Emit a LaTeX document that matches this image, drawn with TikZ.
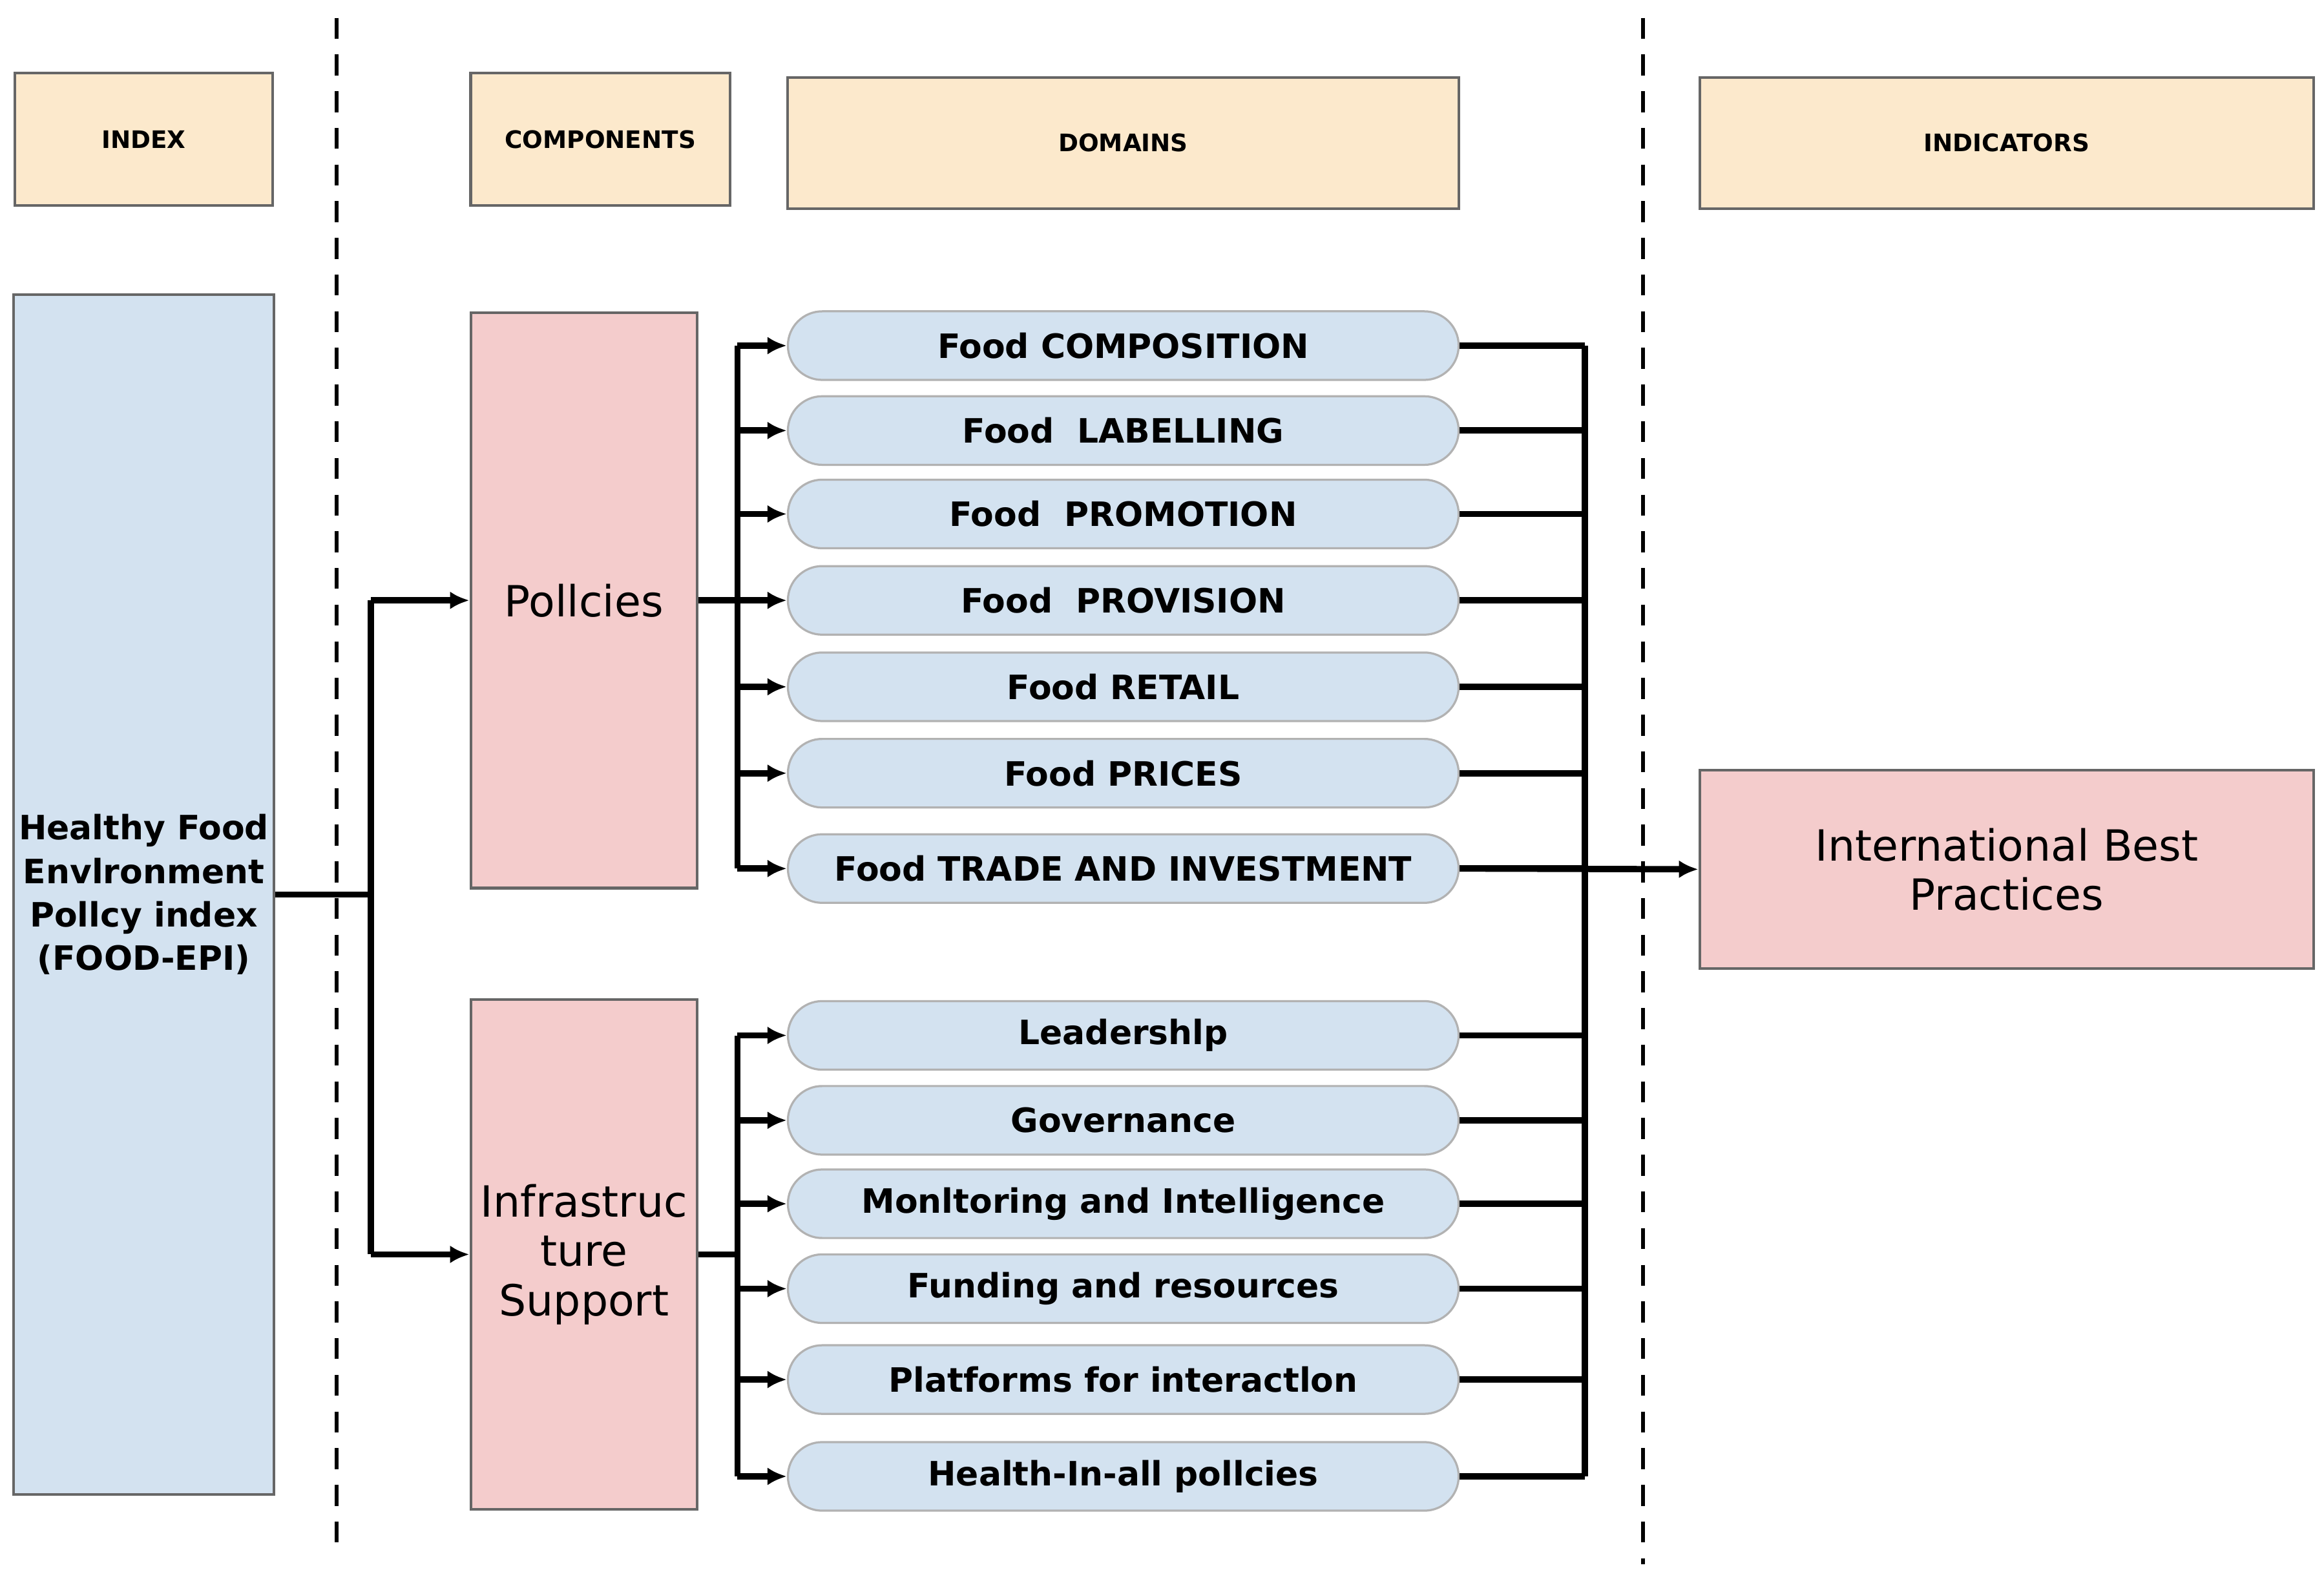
\documentclass[tikz,border=0pt]{standalone}
\usepackage{fontspec}
\setmainfont{DejaVu Sans}
\usetikzlibrary{arrows.meta}
\definecolor{hdr}{HTML}{FCE9CC}
\definecolor{blu}{HTML}{D3E2F0}
\definecolor{pnk}{HTML}{F4CCCC}
\tikzset{
  box/.style={draw=gray!80!black,line width=0.5pt,align=center,inner sep=1pt},
  head/.style={box,fill=hdr,font=\fontsize{4.6}{5}\selectfont\bfseries},
  comp/.style={box,fill=pnk,minimum width=1.52cm,font=\fontsize{8.2}{9.4}\selectfont},
  dom/.style={draw=gray!60,fill=blu,rounded corners=0.23cm,minimum width=4.5cm,minimum height=0.46cm,inner sep=0pt,font=\fontsize{6.4}{7}\selectfont\bfseries},
  conn/.style={line width=1.2pt},
  arr/.style={conn,-{Latex[length=1.3mm,width=1.2mm]}},
  sep/.style={dash pattern=on 4pt off 3pt,line width=0.7pt}
}
\begin{document}
\begin{tikzpicture}[x=0.01cm,y=-0.01cm]
\useasboundingbox[fill=white] (0,0) rectangle (1560,1055);
% separators
\draw[sep] (226,12) -- (226,1045);
\draw[sep] (1103,12) -- (1103,1050);
% headers
\node[head,minimum width=1.73cm,minimum height=0.89cm] (hidx) at (96.5,93.5) {INDEX};
\node[head,minimum width=1.74cm,minimum height=0.89cm] (hcomp) at (403,93.5) {COMPONENTS};
\node[head,minimum width=4.5cm,minimum height=0.88cm] (hdom) at (754,96) {DOMAINS};
\node[head,minimum width=4.12cm,minimum height=0.88cm] (hind) at (1347,96) {INDICATORS};
% index and components
\node[box,fill=blu,minimum width=1.73cm,minimum height=8.05cm,font=\fontsize{6.4}{8.3}\selectfont\bfseries] (idx) at (96.5,600.5) {Healthy Food\\Envlronment\\Pollcy index\\(FOOD-EPI)};
\node[comp,minimum height=3.86cm] (pol) at (392,403) {Pollcies};
\node[comp,minimum height=3.42cm] (inf) at (392,842) {Infrastruc\\ture\\Support};
\node[box,fill=pnk,minimum width=4.12cm,minimum height=1.33cm,font=\fontsize{8.2}{9.4}\selectfont] (ibp) at (1347,583.5) {International Best\\Practices};
% domains
\foreach \i/\y/\t in {1/232/Food COMPOSITION,2/289/Food\ \ LABELLING,3/345/Food\ \ PROMOTION,4/403/Food\ \ PROVISION,5/461/Food RETAIL,6/519/Food PRICES,7/583/Food TRADE AND INVESTMENT,8/695/Leadershlp,9/752/Governance,10/808/Monltoring and Intelligence,11/865/Funding and resources,12/926/Platforms for interactlon,13/991/Health-In-all pollcies}
  \node[dom] (d\i) at (754,\y) {\t};
% connectors
\coordinate (j1) at (249,600.5);
\coordinate (b1) at (495,403);
\coordinate (b2) at (495,842);
\coordinate (r) at (1064,583);
\draw[conn] (idx) -- (j1);
\draw[conn] (j1 |- pol) -- (j1 |- inf);
\draw[arr] (j1 |- pol) -- (pol);
\draw[arr] (j1 |- inf) -- (inf);
\draw[conn] (pol) -- (b1);
\draw[conn] (inf) -- (b2);
\draw[conn] (b1 |- d1) -- (b1 |- d7);
\draw[conn] (b2 |- d8) -- (b2 |- d13);
\foreach \i in {1,...,7} \draw[arr] (b1 |- d\i.west) -- (d\i.west);
\foreach \i in {8,...,13} \draw[arr] (b2 |- d\i.west) -- (d\i.west);
\foreach \i in {1,...,13} \draw[conn] (d\i.east) -- (r |- d\i.east);
\draw[conn] (r |- d1.east) -- (r |- d13.east);
\draw[arr] (d7.east) -- (ibp.west);
\end{tikzpicture}
\end{document}
